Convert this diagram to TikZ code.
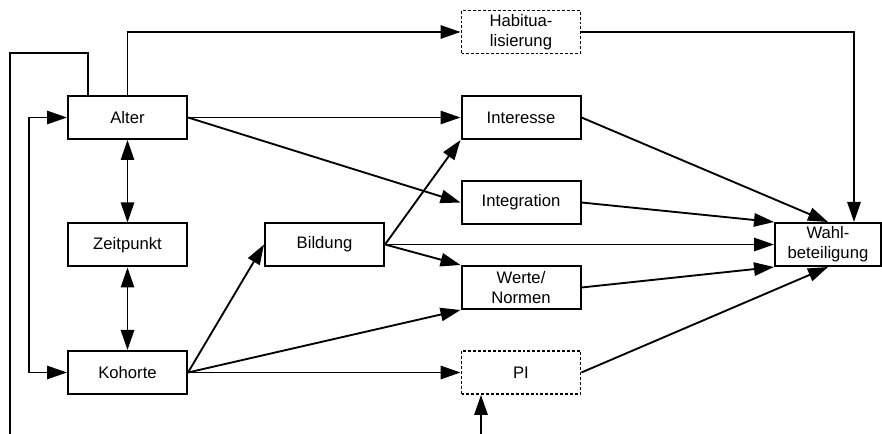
\documentclass[tikz,border=0pt]{standalone}
\usepackage{fontspec}
\setmainfont{Liberation Sans}
\usetikzlibrary{arrows.meta}
\begin{document}
\begin{tikzpicture}[x=0.75pt,y=-0.75pt,
  box/.style={draw,line width=1.5pt,minimum width=89.25pt,minimum height=32.25pt,inner sep=0pt,align=center,font=\fontsize{12.5pt}{15pt}\selectfont},
  dbox/.style={box,dash pattern=on 2.2pt off 1.5pt,line width=1.4pt},
  conn/.style={line width=1.4pt},
  arr/.style={conn,-{Triangle[length=15pt,width=10pt]}},
  darr/.style={conn,{Triangle[length=15pt,width=10pt]}-{Triangle[length=15pt,width=10pt]}}]
\useasboundingbox (0,0) rectangle (882,434);
\node[box] (Alter) at (127.5,117.5) {Alter};
\node[box] (Zeit) at (127.5,245) {Zeitpunkt};
\node[box] (Kohorte) at (127.5,372.5) {Kohorte};
\node[box] (Bildung) at (324.5,244.5) {Bildung};
\node[dbox] (Habit) at (521,32) {Habitua-\\lisierung};
\node[box] (Interesse) at (521,117.5) {Interesse};
\node[box] (Integration) at (521,202.5) {Integration};
\node[box] (Werte) at (521,287.5) {Werte/\\Normen};
\node[dbox] (PI) at (521,372.5) {PI};
\node[box,minimum width=79.5pt] (Wahl) at (828,244.5) {Wahl-\\beteiligung};
\coordinate (kL) at (10,434);
\coordinate (kT) at (88,53);
\coordinate (hR) at (854,32);
\coordinate (pB) at (481,434);
% connectors
\draw[conn] (kL) |- (kT) -- (kT |- Alter.north);
\draw[arr] (Alter.north) |- (Habit.west);
\draw[darr] (Alter.west) -- ++(-38,0) |- (Kohorte.west);
\draw[darr] (Alter.south) -- (Zeit.north);
\draw[darr] (Zeit.south) -- (Kohorte.north);
\draw[arr] (Habit.east) -- (hR) -- (hR |- Wahl.north);
\draw[arr] (Alter.east) -- (Interesse.west);
\draw[arr] (Alter.east) -- (Integration.west);
\draw[arr] (Interesse.east) -- (Wahl.north);
\draw[arr] (Integration.east) -- (Wahl.north west);
\draw[arr] (Bildung.east) -- (Wahl.west);
\draw[arr] (Werte.east) -- (Wahl.south west);
\draw[arr] (PI.east) -- (Wahl.south);
\draw[arr] (Bildung.east) -- (Interesse.south west);
\draw[arr] (Bildung.east) -- (Werte.north west);
\draw[arr] (Kohorte.east) -- (Bildung.west);
\draw[arr] (Kohorte.east) -- (Werte.south west);
\draw[arr] (Kohorte.east) -- (PI.west);
\draw[arr] (pB) -- (pB |- PI.south);
\end{tikzpicture}
\end{document}
